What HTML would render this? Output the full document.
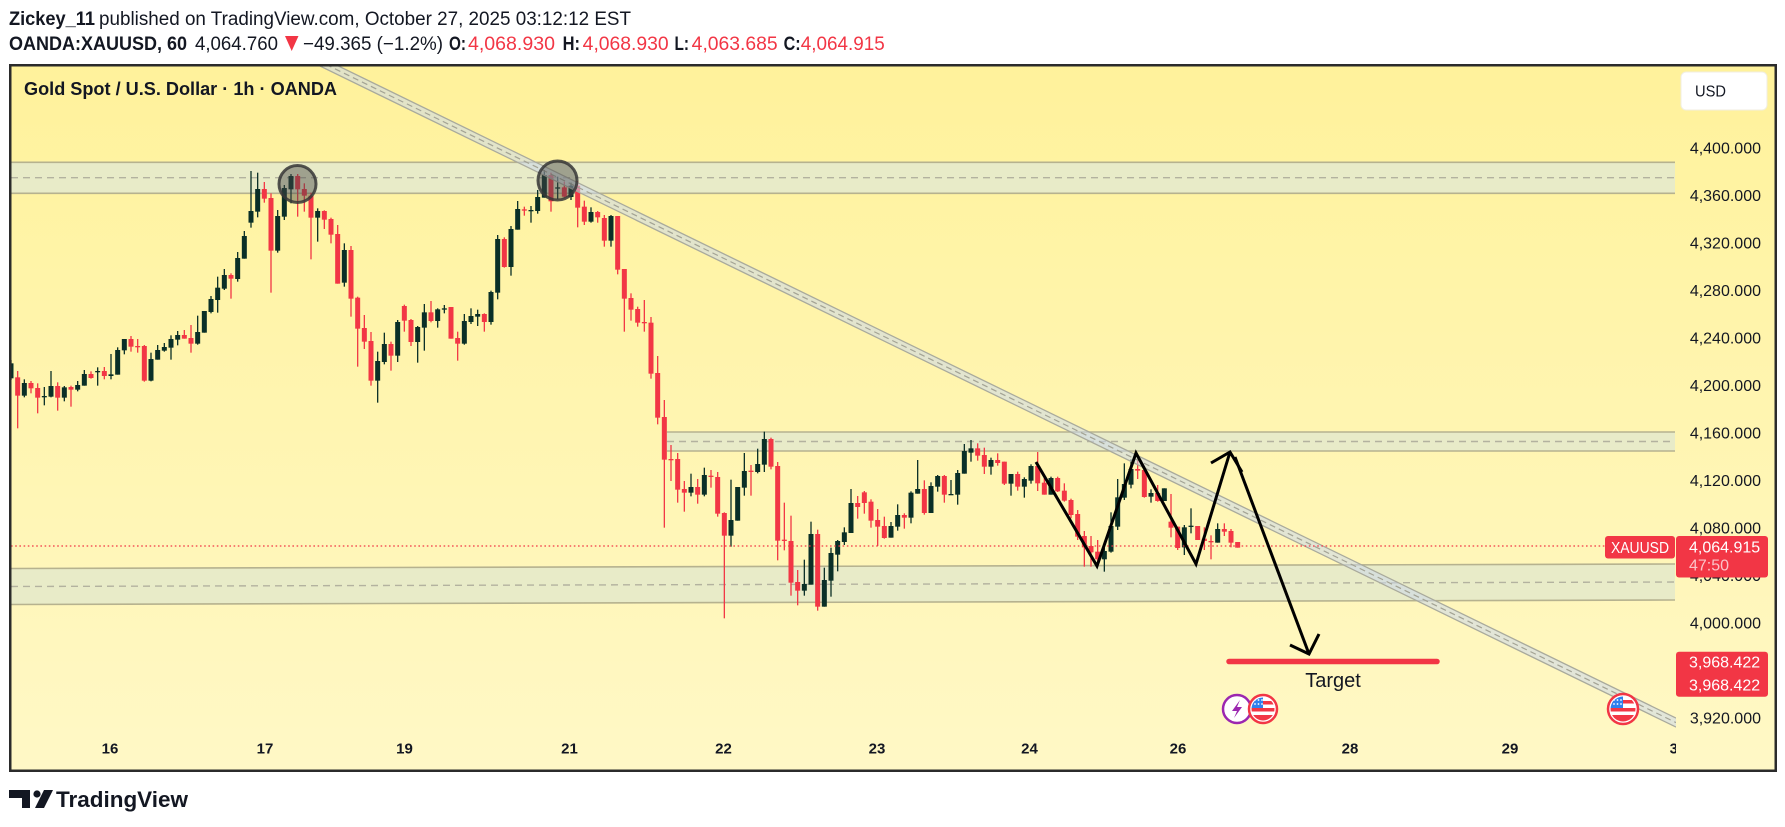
<!DOCTYPE html>
<html><head><meta charset="utf-8">
<style>
html,body{margin:0;padding:0;background:#fff;width:1785px;height:827px;overflow:hidden}
svg{display:block}
text{font-family:"Liberation Sans",Arial,sans-serif;fill:#131722}
</style></head><body>
<svg id="s" width="1785" height="827" viewBox="0 0 1785 827" xmlns="http://www.w3.org/2000/svg">
<defs>
<linearGradient id="bg" x1="0" y1="0" x2="0" y2="1">
<stop offset="0" stop-color="#fff29b"/>
<stop offset="1" stop-color="#fff8c6"/>
</linearGradient>
<clipPath id="plot"><rect x="11" y="66" width="1665" height="704"/></clipPath>
<clipPath id="taxis"><rect x="11" y="730" width="1665" height="40"/></clipPath>
<clipPath id="f1"><circle cx="1263" cy="709" r="11.5"/></clipPath>
<clipPath id="f2"><circle cx="1623" cy="709" r="12.5"/></clipPath>
</defs>
<rect width="1785" height="827" fill="#fff"/>
<rect x="10" y="65" width="1766" height="706" fill="url(#bg)"/>

<!-- header -->
<text x="9" y="25" font-size="19" font-weight="bold" textLength="86" lengthAdjust="spacingAndGlyphs">Zickey_11</text>
<text x="99" y="25" font-size="19" textLength="532" lengthAdjust="spacingAndGlyphs">published on TradingView.com, October 27, 2025 03:12:12 EST</text>
<text x="9" y="50" font-size="19" font-weight="bold" textLength="178" lengthAdjust="spacingAndGlyphs">OANDA:XAUUSD, 60</text>
<text x="195" y="50" font-size="19" textLength="83" lengthAdjust="spacingAndGlyphs">4,064.760</text>
<polygon points="285,36 298.5,36 291.7,51" fill="#f23645"/>
<text x="303" y="50" font-size="19" textLength="140" lengthAdjust="spacingAndGlyphs">−49.365 (−1.2%)</text>
<text x="449" y="50" font-size="19" font-weight="bold" textLength="17" lengthAdjust="spacingAndGlyphs">O:</text>
<text x="468" y="50" font-size="19" textLength="87" lengthAdjust="spacingAndGlyphs" style="fill:#f23645">4,068.930</text>
<text x="562.6" y="50" font-size="19" font-weight="bold" textLength="17.4" lengthAdjust="spacingAndGlyphs">H:</text>
<text x="582.7" y="50" font-size="19" textLength="86" lengthAdjust="spacingAndGlyphs" style="fill:#f23645">4,068.930</text>
<text x="674.5" y="50" font-size="19" font-weight="bold" textLength="14.5" lengthAdjust="spacingAndGlyphs">L:</text>
<text x="691.7" y="50" font-size="19" textLength="86" lengthAdjust="spacingAndGlyphs" style="fill:#f23645">4,063.685</text>
<text x="783.6" y="50" font-size="19" font-weight="bold" textLength="17" lengthAdjust="spacingAndGlyphs">C:</text>
<text x="800.8" y="50" font-size="19" textLength="84" lengthAdjust="spacingAndGlyphs" style="fill:#f23645">4,064.915</text>

<g clip-path="url(#plot)">
<!-- zones -->
<rect x="11" y="162.3" width="1664" height="31" fill="#e8ebc8"/>
<line x1="11" y1="162.3" x2="1675" y2="162.3" stroke="#b6b28f" stroke-width="1.6"/>
<line x1="11" y1="193.3" x2="1675" y2="193.3" stroke="#b6b28f" stroke-width="1.6"/>
<line x1="11" y1="177.7" x2="1675" y2="177.7" stroke="#b3b29f" stroke-width="1.4" stroke-dasharray="7 5"/>

<rect x="667" y="432" width="1008" height="19" fill="#e8ebc8"/>
<line x1="667" y1="432" x2="1675" y2="432" stroke="#b6b28f" stroke-width="1.6"/>
<line x1="667" y1="451" x2="1675" y2="451" stroke="#b6b28f" stroke-width="1.6"/>
<line x1="667" y1="441.5" x2="1675" y2="441.5" stroke="#b3b29f" stroke-width="1.4" stroke-dasharray="7 5"/>

<polygon points="11,568.5 1675,564 1675,600 11,604.5" fill="#e8ebc8"/>
<line x1="11" y1="568.5" x2="1675" y2="564" stroke="#b6b28f" stroke-width="1.6"/>
<line x1="11" y1="604.5" x2="1675" y2="600" stroke="#b6b28f" stroke-width="1.6"/>
<line x1="11" y1="586.5" x2="1675" y2="582" stroke="#b3b29f" stroke-width="1.4" stroke-dasharray="7 5"/>

<!-- candles -->
<g id="cg"></g>

<!-- channel -->
<polygon points="290,42.4 1676,718.1 1676,727.1 290,51.4" fill="rgba(203,215,235,0.55)"/>
<line x1="290" y1="42.4" x2="1676" y2="718.1" stroke="#a9aa9c" stroke-width="1.3"/>
<line x1="290" y1="51.4" x2="1676" y2="727.1" stroke="#a9aa9c" stroke-width="1.3"/>
<line x1="290" y1="46.9" x2="1676" y2="722.6" stroke="#a3a394" stroke-width="1.2" stroke-dasharray="6 4"/>

<!-- circles -->
<circle cx="297.5" cy="184" r="18.5" fill="rgba(70,70,70,0.45)" stroke="rgba(55,55,55,0.85)" stroke-width="3"/>
<circle cx="557.5" cy="180.5" r="19.5" fill="rgba(70,70,70,0.45)" stroke="rgba(55,55,55,0.85)" stroke-width="3"/>

<!-- current price line -->
<line x1="11" y1="546" x2="1605" y2="546" stroke="#f23645" stroke-width="1.3" stroke-dasharray="1.6 2.6"/>

<!-- arrows -->
<polyline points="1036,462 1097,566 1136,453 1196,564 1230,452" fill="none" stroke="#000" stroke-width="3" stroke-linejoin="miter"/>
<polyline points="1211,463 1230,452 1242,472" fill="none" stroke="#000" stroke-width="3"/>
<line x1="1235" y1="457" x2="1309" y2="654" stroke="#000" stroke-width="3"/>
<polyline points="1290,645 1309,654 1319,634" fill="none" stroke="#000" stroke-width="3"/>

<!-- target -->
<line x1="1229" y1="661.5" x2="1437" y2="661.5" stroke="#f23645" stroke-width="5.5" stroke-linecap="round"/>
<text x="1333" y="687" font-size="20" text-anchor="middle">Target</text>

<!-- icons -->
<circle cx="1237" cy="709" r="14" fill="#fff" stroke="#9c27b0" stroke-width="2.5"/>
<path d="M1240,700 L1232,711 H1237 L1234,718 L1242,707 H1237 Z" fill="#9c27b0"/>
<circle cx="1263" cy="709" r="14" fill="#fff" stroke="#f23645" stroke-width="2.5"/>
<g clip-path="url(#f1)">
<rect x="1250" y="696" width="26" height="26" fill="#fff"/>
<rect x="1250" y="701" width="26" height="3.5" fill="#f23645"/>
<rect x="1250" y="708" width="26" height="3.5" fill="#f23645"/>
<rect x="1250" y="715" width="26" height="8" fill="#f23645"/>
<rect x="1250" y="696" width="13" height="12" fill="#2f80ed"/>
<g fill="#fff"><circle cx="1255" cy="700" r="0.9"/><circle cx="1258.5" cy="700" r="0.9"/><circle cx="1262" cy="700" r="0.9"/><circle cx="1255" cy="704" r="0.9"/><circle cx="1258.5" cy="704" r="0.9"/><circle cx="1262" cy="704" r="0.9"/></g>
</g>
<circle cx="1623" cy="709" r="15" fill="#fff" stroke="#f23645" stroke-width="2.5"/>
<g clip-path="url(#f2)">
<rect x="1609" y="695" width="28" height="28" fill="#fff"/>
<rect x="1609" y="700" width="28" height="3.5" fill="#f23645"/>
<rect x="1609" y="708" width="28" height="3.5" fill="#f23645"/>
<rect x="1609" y="715" width="28" height="9" fill="#f23645"/>
<rect x="1609" y="695" width="14" height="13" fill="#2f80ed"/>
<g fill="#fff"><circle cx="1614" cy="700" r="0.9"/><circle cx="1617.5" cy="700" r="0.9"/><circle cx="1621" cy="700" r="0.9"/><circle cx="1614" cy="704" r="0.9"/><circle cx="1617.5" cy="704" r="0.9"/><circle cx="1621" cy="704" r="0.9"/></g>
</g>
</g>

<!-- title -->
<text x="24" y="95" font-size="18" font-weight="bold" textLength="313" lengthAdjust="spacingAndGlyphs">Gold Spot / U.S. Dollar · 1h · OANDA</text>

<!-- USD box -->
<rect x="1681" y="72" width="86" height="38" rx="5" fill="#fff" stroke="#f0eee0" stroke-width="1"/>
<text x="1695" y="96.5" font-size="16" textLength="31" lengthAdjust="spacingAndGlyphs">USD</text>

<!-- price axis -->
<g font-size="16" text-anchor="end">
<text x="1761" y="153.7">4,400.000</text>
<text x="1761" y="201.2">4,360.000</text>
<text x="1761" y="248.7">4,320.000</text>
<text x="1761" y="296.2">4,280.000</text>
<text x="1761" y="343.7">4,240.000</text>
<text x="1761" y="391.2">4,200.000</text>
<text x="1761" y="438.7">4,160.000</text>
<text x="1761" y="486.2">4,120.000</text>
<text x="1761" y="533.7">4,080.000</text>
<text x="1761" y="581.2">4,040.000</text>
<text x="1761" y="628.7">4,000.000</text>
<text x="1761" y="676.2">3,960.000</text>
<text x="1761" y="723.7">3,920.000</text>
</g>

<!-- red labels -->
<rect x="1605" y="536" width="70" height="22.5" rx="3" fill="#f23645"/>
<text x="1611" y="553" font-size="15.5" textLength="58" lengthAdjust="spacingAndGlyphs" style="fill:#fff">XAUUSD</text>
<rect x="1676" y="536" width="92" height="41.5" rx="3" fill="#f23645"/>
<text x="1689" y="552.4" font-size="16" style="fill:#fff">4,064.915</text>
<text x="1689" y="570.7" font-size="16" style="fill:rgba(255,255,255,0.7)">47:50</text>
<rect x="1676" y="651.7" width="92" height="45" rx="3" fill="#f23645"/>
<text x="1689" y="667.4" font-size="16" style="fill:#fff">3,968.422</text>
<text x="1689" y="690.7" font-size="16" style="fill:#fff">3,968.422</text>

<!-- time axis -->
<g font-size="15" font-weight="bold" text-anchor="middle" clip-path="url(#taxis)">
<text x="110" y="753.5">16</text>
<text x="265" y="753.5">17</text>
<text x="404.5" y="753.5">19</text>
<text x="569.5" y="753.5">21</text>
<text x="723.5" y="753.5">22</text>
<text x="877" y="753.5">23</text>
<text x="1029.5" y="753.5">24</text>
<text x="1178" y="753.5">26</text>
<text x="1350" y="753.5">28</text>
<text x="1510" y="753.5">29</text>
<text x="1678" y="753.5">30</text>
</g>

<!-- frame -->
<rect x="10.25" y="65.25" width="1765.5" height="705.5" fill="none" stroke="#2b2b2b" stroke-width="2.5"/>

<!-- logo -->
<path d="M9,790 H30 V808 H22 V798 H9 Z" fill="#131722"/>
<circle cx="37" cy="794" r="3.6" fill="#131722"/>
<path d="M44,790 H53 L44,808 H35 Z" fill="#131722"/>
<text x="56" y="807" font-size="22" font-weight="bold" textLength="132" lengthAdjust="spacingAndGlyphs">TradingView</text>
</svg>
<script>
(function(){
var segs=[
[150,0,"g 640 685 630 690,r 682 737 663 835,g 699 737 688 742,r 699 715 693 730,r 714 743 700 790,g 738 742 711 766,g 708 740 663 742,r 708 743 697 782,g 712 743 708 754,r 711 719 707 770,g 705 719 693 724,g 672 707 660 707,r 672 684 664 686,g 663 665 652 707,r 663 678 651 688,g 673 678 612 688,g 600 674 592 674,g 567 601 567 613,r 567 590 558 605,r 588 591 567 608,r 588 692 585 695,g 627 692 608 694,g 600 629 585 629,g 591 602 579 605,g 567 593 556 629,g 555 569 543 586,r 555 566 540 566,r 564 581 525 608,g 546 581 497 584,g 483 548 483 548,g 447 486 438 490,g 413 450 380 488,g 375 416 357 420,r 375 386 370 446,g 324 387 306 395,g 258 326 243 326,g 183 218 63 233,g 117 185 68 202,r 117 146 96 158,r 144 302 130 428,g 198 302 180 308,g 114 200 105 210,g 78 118 72 160,r 78 118 72 200"],
[150,44,"r 117 137 100 185,r 137 203 128 328,g 183 203 175 275,r 183 209 181 237,r 207 254 203 280,r 252 401 225 401,g 300 398 280 410,r 300 446 288 500,r 443 536 440 650,r 534 575 495 597,r 573 692 546 707,g 633 692 605 758,g 582 636 548 643,r 582 617 575 662,g 516 617 510 636,r 468 512 464 545,r 510 576 507 588,g 531 576 528 638,g 487 533 462 602,r 487 513 453 517,g 478 513 475 533,g 475 479 465 490,r 471 566 471 566,r 564 581 545 632,g 513 581 492 584,g 498 516 475 522,g 492 500 479 528,r 492 516 490 545,g 426 516 422 524,g 267 428 255 448,r 267 351 262 353,g 237 351 228 377,g 177 239 153 239,r 178 182 170 197,g 180 183 168 218,g 141 183 120 191,g 75 143 60 143,r 75 154 68 185,g 112 116 80 147,r 112 140 95 142,g 107 141 98 150,r 107 173 93 232,r 170 215 152 225"],
[150,87,"g 186 215 172 218,r 186 202 183 218,r 204 272 195 290,g 198 272 195 290,r 198 359 198 373,r 357 446 357 545,r 444 479 430 512,r 477 518 470 530,r 516 519 450 545,r 518 671 501 686,r 669 803 618 823,r 801 929 750 1133,r 927 930 885 993,r 927 1019 909 1058,r 1017 1028 993 1085,g 1011 1028 971 1039,r 1011 1034 987 1061,g 975 1034 953 1039,r 977 980 960 1013,r 981 1091 966 1100,r 1089 1157 1087 1405,g 1110 1157 989 1190,g 1011 1112 1011 1112,g 963 1013 909 1037,r 962 965 945 1037,g 942 966 896 970,g 867 944 845 966,r 867 950 863 958,r 948 1172 936 1231,r 1169 1172 1058 1201,r 1173 1298 1097 1337,r 1296 1322 1260 1366,g 1302 1322 1229 1337,g 1152 1304 1115 1304,r 1152 1370 1139 1382,g 1290 1370 1253 1370,g 1209 1292 1193 1340,g 1173 1214 1170 1264"],
[420,125,"g 337 366 322 375,g 249 339 207 339,r 249 261 228 296,r 217 249 213 281,r 245 302 238 323,r 300 320 267 378,r 318 354 290 356,g 318 353 306 353,g 285 320 253 332,r 285 293 280 326,g 218 293 214 310,g 207 221 120 221,r 207 279 181 284,g 198 279 187 279,g 168 200 165 215,r 168 224 165 248,g 222 225 180 225,g 159 224 150 254,g 93 161 72 161,g 85 98 60 125,r 85 107 70 122,r 105 140 83 162,g 120 140 113 164,r 120 129 100 137,r 125 191 125 195,g 162 191 162 227,r 162 200 155 212,g 177 200 172 233,g 138 182 133 191,r 138 190 96 213,r 188 224 174 224,g 174 224 170 224,r 174 214 170 216,r 212 242 190 245,r 240 285 236 295,r 282 350 270 360"],
[420,161,"r 348 382 333 440,r 378 397 348 440,r 395 418 360 430,g 393 418 383 455,g 318 395 277 398,g 232 320 177 330,g 192 233 130 240,g 147 194 118 205,r 147 152 118 177,r 150 231 140 233,g 219 230 208 248,r 219 243 195 245,g 205 243 205 243,r 305 323 222 352,r 320 384 320 390,g 322 382 315 405,g 317 320 265 340,r 318 360 318 360,r 356 363 322 390,r 363 367 346 418,g 327 368 310 368,r 327 335 310 348,r 333 368 327 382,r 366 383 366 383"]
];
var NS="http://www.w3.org/2000/svg",g=document.getElementById("cg");
segs.forEach(function(s){
  var base=s[0],start=s[1],items=s[2].split(",");
  items.forEach(function(it,k){
    var p=it.trim().split(/\s+/),col=p[0]=="g"?"#0a2f27":"#f23645";
    var bt=base+(+p[1])/3,bb=base+(+p[2])/3,wt=base+(+p[3])/3,wb=base+(+p[4])/3;
    var cx=11+(start+k)*6.6667;
    var w=document.createElementNS(NS,"rect");
    w.setAttribute("x",(cx-0.65).toFixed(2));w.setAttribute("y",wt.toFixed(2));
    w.setAttribute("width","1.3");w.setAttribute("height",Math.max(1,wb-wt).toFixed(2));
    w.setAttribute("fill",col);g.appendChild(w);
    var b=document.createElementNS(NS,"rect");
    b.setAttribute("x",(cx-2.5).toFixed(2));b.setAttribute("y",bt.toFixed(2));
    b.setAttribute("width","5");b.setAttribute("height",Math.max(1.3,bb-bt).toFixed(2));
    b.setAttribute("fill",col);g.appendChild(b);
  });
});
})();
</script>
</body></html>
